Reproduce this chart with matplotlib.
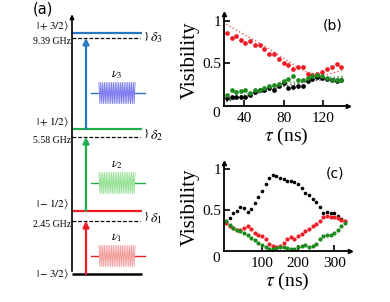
import numpy as np
import matplotlib
matplotlib.use('Agg')
import matplotlib.pyplot as plt

plt.rcParams['font.family'] = ['Liberation Serif', 'DejaVu Serif']
plt.rcParams['mathtext.fontset'] = 'stix'

# ---- (a) level scheme (schematic energy units) ----
level_names = [r'$|-3/2\rangle$', r'$|-1/2\rangle$', r'$|+1/2\rangle$', r'$|+3/2\rangle$']
level_e = [0.0, 2.52, 5.80, 9.64]
drive_e = [2.12, 5.48, 9.44]
drive_freq = ['2.45 GHz', '5.58 GHz', '9.39 GHz']
level_col = ['black', '#ee1c24', '#1fae4b', '#2878c0']
pulse_col = ['#f4a3a3', '#9be39b', '#8080ee']
pulse_e = [0.72, 3.64, 7.24]

# ---- (b) short-time visibility ----
tau_b = [23, 27.5, 32, 36.5, 41, 46, 51, 56, 60.5, 65.5, 70.5, 75.5, 80.5,
         85, 90, 95, 100, 104.5, 109, 114, 119, 124, 129, 134, 138]
red_b = [0.86, 0.80, 0.82, 0.77, 0.74, 0.76, 0.72, 0.72, 0.67, 0.61, 0.61, 0.55, 0.51,
         0.48, 0.43, 0.46, 0.46, 0.38, 0.36, 0.38, 0.40, 0.43, 0.46, 0.49, 0.46]
green_b = [0.13, 0.19, 0.17, 0.18, 0.19, 0.15, 0.19, 0.19, 0.21, 0.24, 0.25, 0.26, 0.29,
           0.32, 0.35, 0.31, 0.31, 0.33, 0.35, 0.36, 0.35, 0.33, 0.31, 0.30, 0.31]
black_b = [0.09, 0.10, 0.10, 0.11, 0.10, 0.13, 0.16, 0.19, 0.19, 0.21, 0.19, 0.23, 0.27,
           0.21, 0.22, 0.23, 0.24, 0.29, 0.32, 0.34, 0.33, 0.32, 0.30, 0.29, 0.30]
fit_tau_r = [22, 40, 60, 80, 95, 105, 115, 125, 140]
fit_red = [0.96, 0.84, 0.71, 0.56, 0.45, 0.39, 0.36, 0.37, 0.42]
fit_tau = [22, 40, 60, 80, 100, 120, 140]
fit_green = [0.06, 0.13, 0.20, 0.26, 0.30, 0.33, 0.35]
fit_black = [0.05, 0.11, 0.17, 0.23, 0.28, 0.31, 0.33]

# ---- (c) long-time visibility ----
tau_c = list(range(0, 340, 10))
black_c = [0.35, 0.40, 0.46, 0.49, 0.53, 0.52, 0.47, 0.51, 0.58, 0.66, 0.73, 0.81,
           0.89, 0.93, 0.91, 0.89, 0.87, 0.85, 0.85, 0.84, 0.81, 0.76, 0.71, 0.68,
           0.63, 0.60, 0.53, 0.46, 0.47, 0.46, 0.46, 0.42, 0.39, 0.37]
red_c = [0.34, 0.31, 0.28, 0.26, 0.25, 0.28, 0.30, 0.27, 0.22, 0.20, 0.18, 0.14,
         0.09, 0.06, 0.05, 0.06, 0.10, 0.14, 0.17, 0.15, 0.18, 0.21, 0.24, 0.27,
         0.30, 0.33, 0.37, 0.41, 0.42, 0.41, 0.41, 0.40, 0.38, 0.36]
green_c = [0.36, 0.32, 0.28, 0.25, 0.24, 0.22, 0.19, 0.16, 0.13, 0.10, 0.07, 0.05,
           0.03, 0.03, 0.04, 0.05, 0.05, 0.04, 0.02, 0.03, 0.05, 0.06, 0.07, 0.05,
           0.06, 0.09, 0.14, 0.18, 0.20, 0.20, 0.22, 0.25, 0.30, 0.34]

W, H = 390, 302
fig = plt.figure(figsize=(W / 100, H / 100), dpi=100)

# panel (a): x in pixel-like units, y in energy units
axa = fig.add_axes([0, 0, 180 / W, 1])
axa.set_xlim(0, 180)
axa.set_ylim((274 - 302) / 25, 274 / 25)
axa.axis('off')
axa.annotate('', xy=(72, 10.5), xytext=(72, 0), arrowprops=dict(arrowstyle='-|>', color='black', lw=1.2, mutation_scale=6))
for i, e in enumerate(level_e):
    axa.plot([72, 142], [e, e], color=level_col[i], lw=1.6 if i else 1.8, solid_capstyle='butt')
    axa.text(69, e + (0.25 if i else 0), level_names[i], ha='right', va='center', fontsize=8)
for i, e in enumerate(drive_e):
    axa.plot([72, 140], [e, e], color='black', lw=0.9, ls=(0, (3, 1.5)))
    axa.text(71, e - 0.15, drive_freq[i], ha='right', va='center', fontsize=7)
    axa.text(144, (e + level_e[i + 1]) / 2, '}', ha='left', va='center', fontsize=8)
    axa.text(150, (e + level_e[i + 1]) / 2 - 0.1, r'$\delta_%d$' % (i + 1), ha='left', va='center', fontsize=10)
    # transition arrows
    start = 0 if i == 0 else level_e[i]
    axa.annotate('', xy=(86, e), xytext=(86, start),
                 arrowprops=dict(arrowstyle='-|>', color=level_col[i + 1], lw=1.6, mutation_scale=9, shrinkA=0, shrinkB=0))
    # microwave pulse
    pc = pulse_e[i]
    axa.plot([91, 99], [pc, pc], color=level_col[i + 1], lw=1.0)
    axa.plot([135, 145], [pc, pc], color=level_col[i + 1], lw=1.0)
    zx = np.linspace(99, 135, 41)
    zy = pc + 0.42 * np.where(np.arange(41) % 2 == 0, 1, -1)
    axa.plot(zx, zy, color=pulse_col[i], lw=0.7)
    axa.text(117, pc + 0.72, r'$\nu_%d$' % (i + 1), ha='center', va='center', fontsize=9)
axa.text(43, 10.6, '(a)', ha='center', va='center', fontsize=10.5, family='DejaVu Sans')


def style(ax, xticks, label):
    for s in ['top', 'right']:
        ax.spines[s].set_visible(False)
    for s in ['left', 'bottom']:
        ax.spines[s].set_linewidth(1.3)
    ax.plot(0, 1, '^k', ms=3, transform=ax.transAxes, clip_on=False)
    ax.plot(1, 0, '>k', ms=3, transform=ax.transAxes, clip_on=False)
    ax.set_xticks(xticks)
    ax.set_yticks([0.5, 1])
    ax.set_yticklabels(['0.5', '1'])
    ax.tick_params(direction='in', length=4, width=1.2, labelsize=11, pad=2)
    ax.tick_params(axis='x', pad=4)
    ax.annotate('0', xy=(0, 0), xycoords='axes fraction', xytext=(-3, -1),
                textcoords='offset points', ha='right', va='top', fontsize=11)
    ax.set_xlabel(r'$\tau$ (ns)', fontsize=14, labelpad=1)
    ax.set_ylabel('Visibility', fontsize=15, labelpad=2)
    ax.text(0.88, 0.88, label, transform=ax.transAxes, ha='center', va='center',
            fontsize=10, family='DejaVu Sans')


axb = fig.add_axes([224 / W, 1 - 106 / H, 124 / W, 92 / H])
axb.plot(fit_tau_r, fit_red, ls=':', color='#f06060', lw=1.0)
axb.plot(fit_tau, fit_green, ls=':', color='#33aa33', lw=1.0)
axb.plot(fit_tau, fit_black, ls=':', color='#555555', lw=1.0)
axb.plot(tau_b, red_b, 'o', color='#ee1c24', ms=3.4, mec='none')
axb.plot(tau_b, black_b, 'o', color='black', ms=3.4, mec='none')
axb.plot(tau_b, green_b, 'o', color='#1e8a1e', ms=3.4, mec='none')
axb.set_xlim(19.7, 145.3)
axb.set_ylim(0, 1.08)
style(axb, [40, 80, 120], '(b)')

axc = fig.add_axes([224 / W, 1 - 251 / H, 126 / W, 88 / H])
axc.plot(tau_c, black_c, 'o', color='black', ms=2.6, mec='none')
axc.plot(tau_c, red_c, 'o', color='#ee1c24', ms=3.0, mec='none')
axc.plot(tau_c, green_c, 'o', color='#1e8a1e', ms=3.0, mec='none')
axc.set_xlim(-5.6, 344)
axc.set_ylim(0, 1.07)
style(axc, [100, 200, 300], '(c)')

fig.savefig('out.png', dpi=100)
